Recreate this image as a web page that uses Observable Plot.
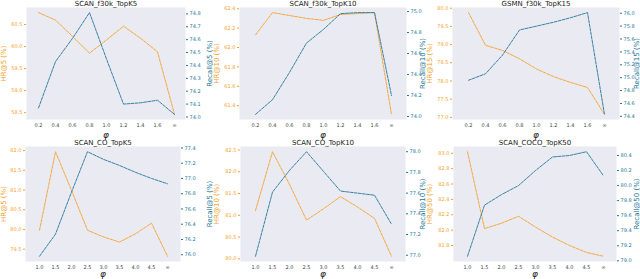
<!DOCTYPE html>
<html><head><meta charset="utf-8">
<script src="https://cdn.jsdelivr.net/npm/d3@7"></script>
<script src="https://cdn.jsdelivr.net/npm/@observablehq/plot@0.6"></script>
<style>
body{margin:0;background:#fff;}
#g{position:relative;width:640px;height:279px;overflow:hidden;}
.c{position:absolute;}
</style>
</head><body><div id="g"></div>
<script>
// ---- data ----
const titles = ["SCAN_f30k_TopK5", "SCAN_f30k_TopK10", "GSMN_f30k_TopK15", "SCAN_CO_TopK5", "SCAN_CO_TopK10", "SCAN_COCO_TopK50"];
const hrLabels = ["HR@5 (%)", "HR@10 (%)", "HR@15 (%)", "HR@5 (%)", "HR@10 (%)", "HR@50 (%)"];
const recLabels = ["Recall@5 (%)", "Recall@10 (%)", "Recall@15 (%)", "Recall@5 (%)", "Recall@10 (%)", "Recall@50 (%)"];
const phiTop = ["0.2", "0.4", "0.6", "0.8", "1.0", "1.2", "1.4", "1.6", "∞"];
const phiBottom = ["1.0", "1.5", "2.0", "2.5", "3.0", "3.5", "4.0", "4.5", "∞"];

const hr1 = [60.77, 60.60, 60.23, 59.85, 60.15, 60.46, 60.19, 59.88, 58.46];
const rec1 = [74.07, 74.43, 74.61, 74.81, 74.45, 74.10, 74.11, 74.13, 74.02];
const hr2 = [62.13, 62.36, 62.33, 62.30, 62.28, 62.34, 62.35, 62.36, 61.31];
const rec2 = [74.02, 74.16, 74.42, 74.70, 74.83, 74.98, 74.99, 74.99, 74.20];
const hr3 = [79.88, 78.98, 78.84, 78.61, 78.33, 78.12, 77.96, 77.82, 77.08];
const rec3 = [74.96, 75.06, 75.35, 75.74, 75.80, 75.86, 75.93, 76.01, 74.43];
const hr4 = [79.98, 81.97, 80.99, 79.98, 79.81, 79.68, 79.89, 80.16, 79.32];
const rec4 = [75.98, 76.27, 76.82, 77.35, 77.25, 77.17, 77.08, 77.00, 76.93];
const hr5 = [81.11, 82.46, 81.71, 80.89, 81.15, 81.43, 81.19, 80.93, 80.06];
const rec5 = [76.99, 77.61, 77.82, 78.00, 77.81, 77.62, 77.60, 77.58, 77.30];
const hr6 = [83.02, 82.02, 82.09, 82.18, 82.04, 81.91, 81.80, 81.71, 81.66];
const rec6 = [79.06, 79.74, 79.88, 80.00, 80.20, 80.38, 80.40, 80.45, 80.13];

const hrTicks1 = [58.5, 59.0, 59.5, 60.0, 60.5];
const recTicks1 = [74.0, 74.1, 74.2, 74.3, 74.4, 74.5, 74.6, 74.7, 74.8];
const hrTicks2 = [61.4, 61.6, 61.8, 62.0, 62.2, 62.4];
const recTicks2 = [74.0, 74.2, 74.4, 74.6, 74.8, 75.0];
const hrTicks3 = [77.0, 77.5, 78.0, 78.5, 79.0, 79.5, 80.0];
const recTicks3 = [74.4, 74.6, 74.8, 75.0, 75.2, 75.4, 75.6, 75.8, 76.0];
const hrTicks4 = [79.5, 80.0, 80.5, 81.0, 81.5, 82.0];
const recTicks4 = [76.0, 76.2, 76.4, 76.6, 76.8, 77.0, 77.2, 77.4];
const hrTicks5 = [80.0, 80.5, 81.0, 81.5, 82.0, 82.5];
const recTicks5 = [77.0, 77.2, 77.4, 77.6, 77.8, 78.0];
const hrTicks6 = [81.8, 82.0, 82.2, 82.4, 82.6, 82.8, 83.0];
const recTicks6 = [79.0, 79.2, 79.4, 79.6, 79.8, 80.0, 80.2, 80.4];

// ---- drawing ----
const ORANGE = "#f5a02a", BLUE = "#23779a", BG = "#eaeaf2";
const series = [
  {phi: phiTop, hr: hr1, rec: rec1, hrT: hrTicks1, recT: recTicks1},
  {phi: phiTop, hr: hr2, rec: rec2, hrT: hrTicks2, recT: recTicks2},
  {phi: phiTop, hr: hr3, rec: rec3, hrT: hrTicks3, recT: recTicks3},
  {phi: phiBottom, hr: hr4, rec: rec4, hrT: hrTicks4, recT: recTicks4},
  {phi: phiBottom, hr: hr5, rec: rec5, hrT: hrTicks5, recT: recTicks5},
  {phi: phiBottom, hr: hr6, rec: rec6, hrT: hrTicks6, recT: recTicks6}
];
const layout = [
  {left: 0, top: 0, ml: 26, mr: 28, mt: 7, mb: 21},
  {left: 213, top: 0, ml: 26, mr: 20, mt: 7, mb: 21},
  {left: 426, top: 0, ml: 26, mr: 21, mt: 7, mb: 21},
  {left: 0, top: 139, ml: 25, mr: 33, mt: 7, mb: 18},
  {left: 213, top: 139, ml: 27, mr: 21, mt: 7, mb: 18},
  {left: 426, top: 139, ml: 27, mr: 24, mt: 7, mb: 18}
];
const pad = a => { const [lo, hi] = d3.extent(a); const m = (hi - lo) * 0.05; return [lo - m, hi + m]; };
const g = document.getElementById("g");

series.forEach((s, k) => {
  const L = layout[k];
  const w = k % 3 === 2 ? 214 : 213;
  const dO = pad(s.hr), dB = pad(s.rec);
  const toL = v => dO[0] + (v - dB[0]) / (dB[1] - dB[0]) * (dO[1] - dO[0]);
  const rows = s.phi.map((p, i) => ({p, hr: s.hr[i], rec: toL(s.rec[i])}));
  const chart = Plot.plot({
    width: w, height: 140,
    marginLeft: L.ml, marginRight: L.mr, marginTop: L.mt, marginBottom: L.mb,
    style: {background: "transparent", fontFamily: "DejaVu Sans", fontSize: "5px"},
    x: {type: "point", domain: s.phi, inset: 3},
    y: {domain: dO},
    marks: [
      Plot.frame({fill: BG, stroke: null}),
      Plot.axisX({tickSize: 0, tickPadding: 4, fontSize: 5, fill: "#444",
        label: "φ", labelAnchor: "center", labelArrow: "none", labelOffset: L.mb - 3}),
      Plot.axisY(s.hrT, {anchor: "left", tickSize: 2, tickPadding: 2, color: ORANGE, fill: ORANGE,
        tickFormat: d => d.toFixed(1),
        label: hrLabels[k], labelAnchor: "center", labelArrow: "none", labelOffset: L.ml - 1}),
      Plot.axisY(s.recT.map(toL), {anchor: "right", tickSize: 2, tickPadding: 2, color: BLUE, fill: BLUE,
        tickFormat: (d, i) => s.recT[i].toFixed(1),
        label: recLabels[k], labelAnchor: "center", labelArrow: "none", labelOffset: L.mr - 2}),
      Plot.line(rows, {x: "p", y: "hr", stroke: ORANGE, strokeWidth: 0.9, strokeDasharray: "3,1.2"}),
      Plot.line(rows, {x: "p", y: "rec", stroke: BLUE, strokeWidth: 0.9, strokeDasharray: "3,1.2"}),
      Plot.text([titles[k]], {frameAnchor: "top", dy: -6, fontSize: 7, fill: "#222"})
    ]
  });
  const div = document.createElement("div");
  div.className = "c";
  div.style.left = L.left + "px";
  div.style.top = L.top + "px";
  div.appendChild(chart);
  g.appendChild(div);
});

// style axis labels
document.querySelectorAll("svg [aria-label='y-axis label'] text").forEach(t => { t.style.fontSize = "7px"; });
document.querySelectorAll("svg [aria-label='x-axis label'] text").forEach(t => { t.style.fontSize = "9px"; t.style.fontStyle = "italic"; t.setAttribute("fill", "#222"); });
</script>
</body></html>
